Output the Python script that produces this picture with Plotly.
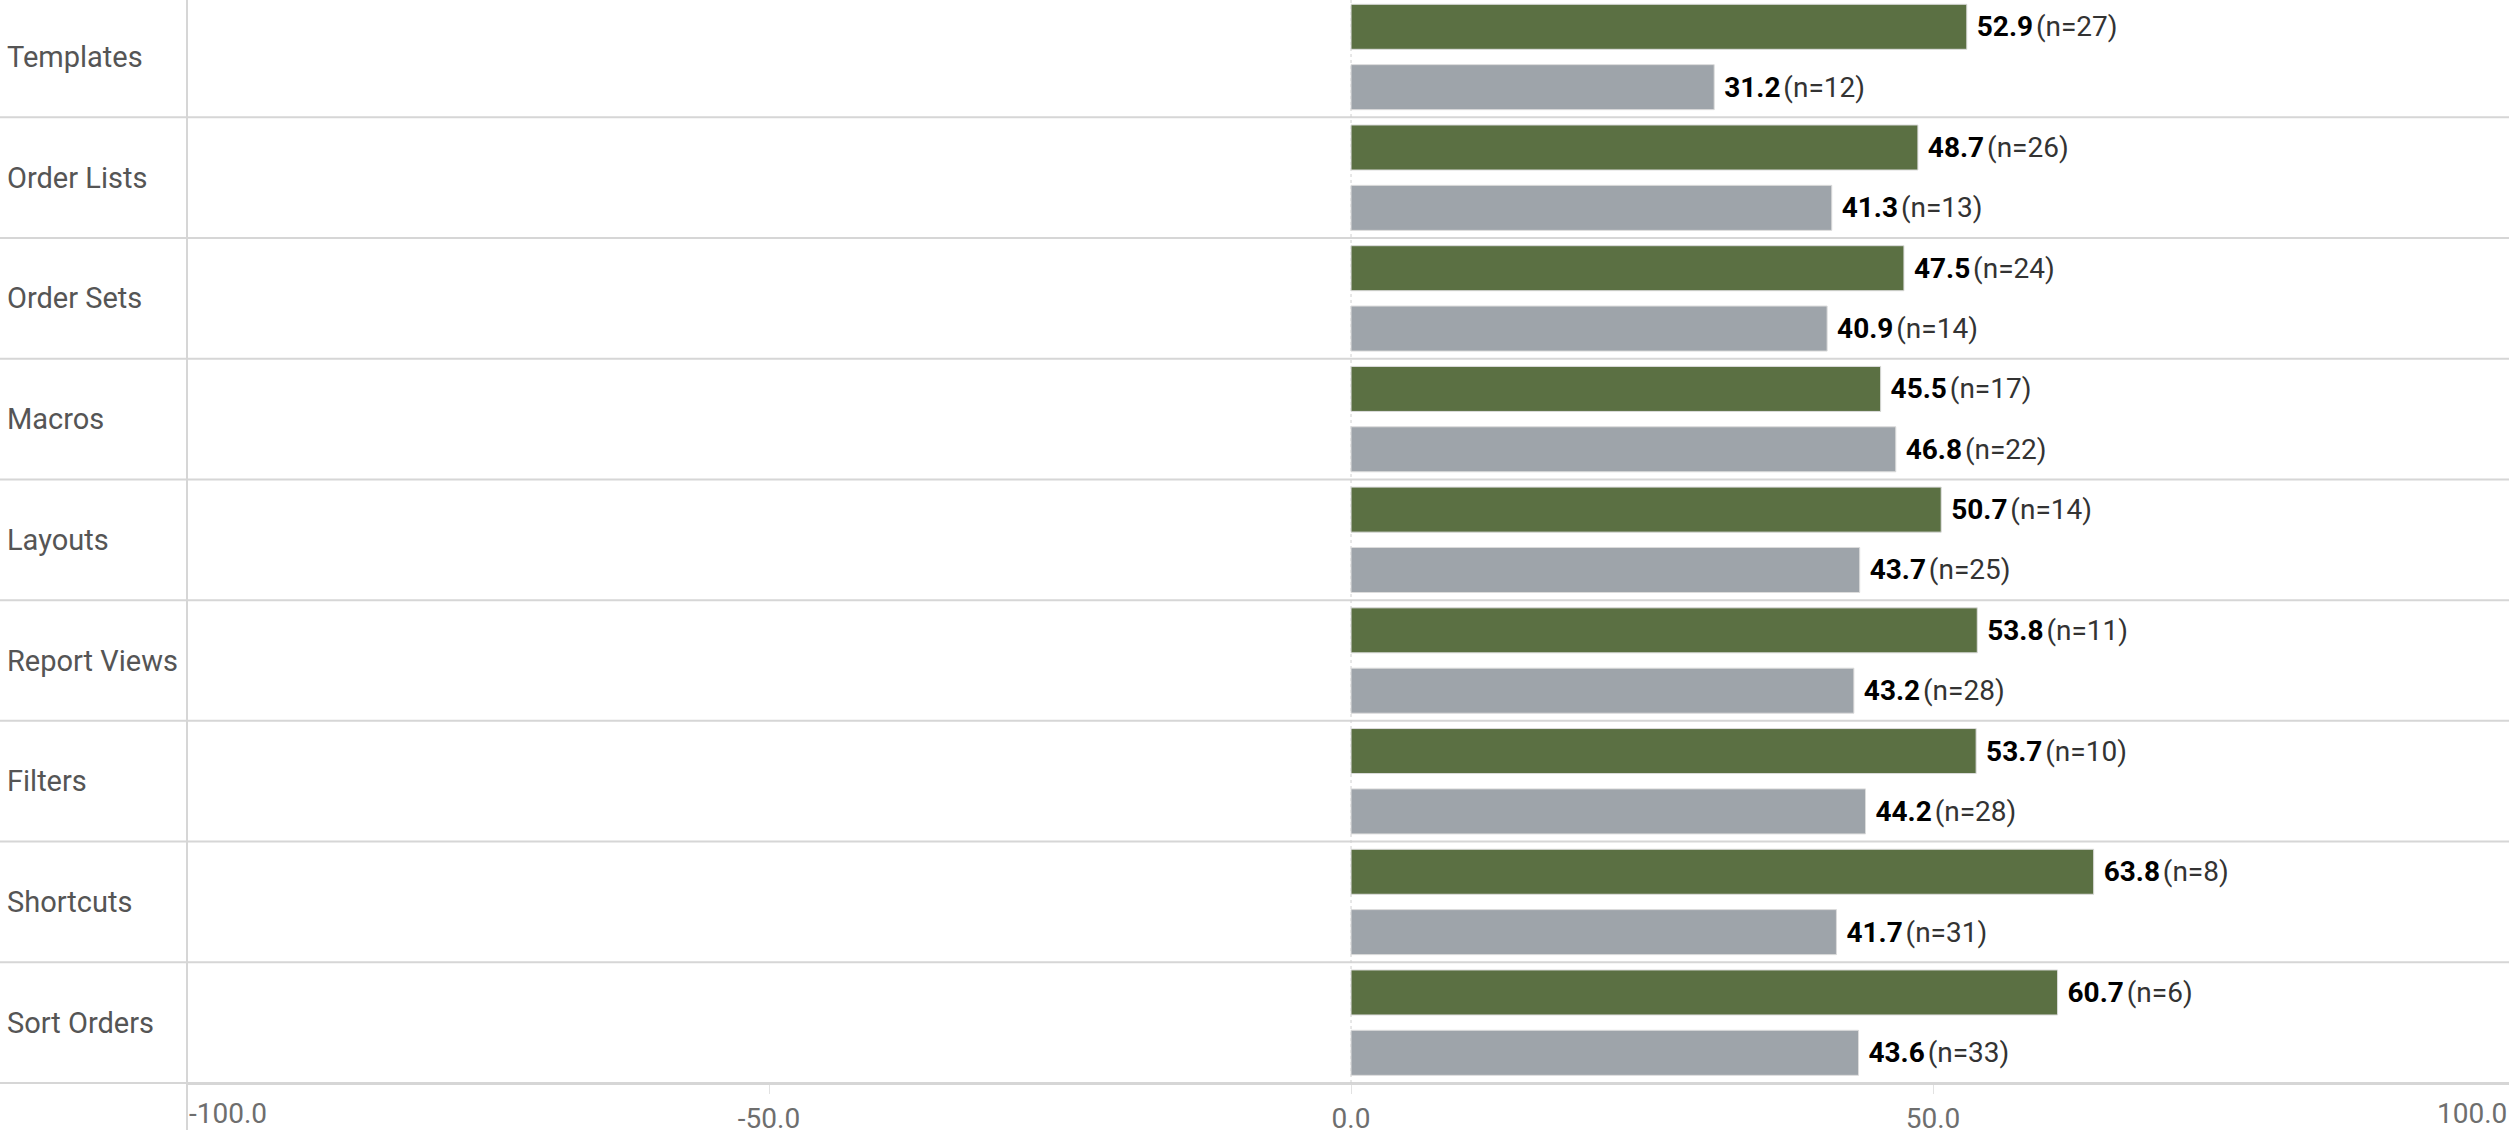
import plotly.graph_objects as go

# Feature categories, top to bottom
categories = ["Templates", "Order Lists", "Order Sets", "Macros", "Layouts",
              "Report Views", "Filters", "Shortcuts", "Sort Orders"]

# Upper (green) series: score and respondent count
green_values = [52.9, 48.7, 47.5, 45.5, 50.7, 53.8, 53.7, 63.8, 60.7]
green_counts = [27, 26, 24, 17, 14, 11, 10, 8, 6]

# Lower (gray) series: score and respondent count
gray_values = [31.2, 41.3, 40.9, 46.8, 43.7, 43.2, 44.2, 41.7, 43.6]
gray_counts = [12, 13, 14, 22, 25, 28, 28, 31, 33]

# Axis ticks
tick_values = [-50, 0, 50]
tick_labels = ["-50.0", "0.0", "50.0"]
edge_labels = ["-100.0", "100.0"]

W, H = 2509, 1139
M_L, M_B = 187, 56
FONT = "Roboto"
GREEN = "#5b7043"
GRAY = "#9ea4aa"
LINE = "#d6d6d6"

X_MIN, X_MAX = -100, 99.48
Y_BOTTOM, Y_TOP = len(categories) - 0.5, -0.472


def labels(values, counts):
    return [f"\u00a0<span style='color:#000'><b>{v:.1f}</b></span>\u200a(n={n})"
            for v, n in zip(values, counts)]


fig = go.Figure()
for vals, cnts, color, name in [
    (green_values, green_counts, GREEN, "Primary"),
    (gray_values, gray_counts, GRAY, "Comparison"),
]:
    fig.add_trace(go.Bar(
        y=categories, x=vals, orientation="h", name=name,
        marker=dict(color=color, line=dict(color="#dcdcdc", width=1)),
        text=labels(vals, cnts), textposition="outside",
        textfont=dict(family=FONT, size=28, color="#333"),
        cliponaxis=False, constraintext="none", showlegend=False,
    ))

shapes = []
plot_h = H - M_B
span = Y_BOTTOM - Y_TOP
# Row separators across the full width, including the label column
for i in range(len(categories)):
    b = i + 0.5
    yp = (Y_BOTTOM - b) / span
    shapes.append(dict(type="line", xref="paper", yref="paper",
                       x0=-M_L / (W - M_L), x1=1, y0=yp, y1=yp,
                       line=dict(color=LINE, width=2), layer="below"))
# Divider between labels and plot, running past the axis
shapes.append(dict(type="line", xref="paper", yref="paper",
                   x0=0, x1=0, y0=-47 / plot_h, y1=1,
                   line=dict(color=LINE, width=2), layer="below"))
# Dotted zero reference
zx = (0 - X_MIN) / (X_MAX - X_MIN)
shapes.append(dict(type="line", xref="paper", yref="paper",
                   x0=zx, x1=zx, y0=0, y1=1,
                   line=dict(color="#cfcfcf", width=1, dash="dot"), layer="below"))

annotations = []
for c in categories:
    annotations.append(dict(x=-M_L / (W - M_L), xref="paper", y=c, yref="y",
                            text=c, showarrow=False, xanchor="left",
                            xshift=5, yanchor="middle",
                            font=dict(family=FONT, size=29, color="#555")))
annotations.append(dict(x=0, xref="paper", y=0, yref="paper", text=edge_labels[0],
                        showarrow=False, xanchor="left", yanchor="top", yshift=-12,
                        font=dict(family=FONT, size=28, color="#6e6e6e")))
annotations.append(dict(x=1, xref="paper", y=0, yref="paper", text=edge_labels[1],
                        showarrow=False, xanchor="right", yanchor="top", yshift=-12,
                        font=dict(family=FONT, size=28, color="#6e6e6e")))

fig.update_layout(
    width=W, height=H,
    margin=dict(l=M_L, r=0, t=0, b=M_B),
    paper_bgcolor="white", plot_bgcolor="white",
    barmode="group", bargap=0.0, bargroupgap=0.254,
    shapes=shapes, annotations=annotations,
    font=dict(family=FONT),
)
fig.update_xaxes(
    range=[X_MIN, X_MAX], tickvals=tick_values, ticktext=tick_labels,
    showgrid=False, zeroline=False, showline=True, linecolor=LINE, linewidth=2,
    ticks="outside", ticklen=9, tickcolor="#e2e2e2", tickwidth=1,
    tickfont=dict(family=FONT, size=28, color="#6e6e6e"),
)
fig.update_yaxes(
    range=[Y_BOTTOM, Y_TOP], showticklabels=False, showgrid=False,
    zeroline=False, showline=False, ticks="",
)

fig.write_html("out.html")
